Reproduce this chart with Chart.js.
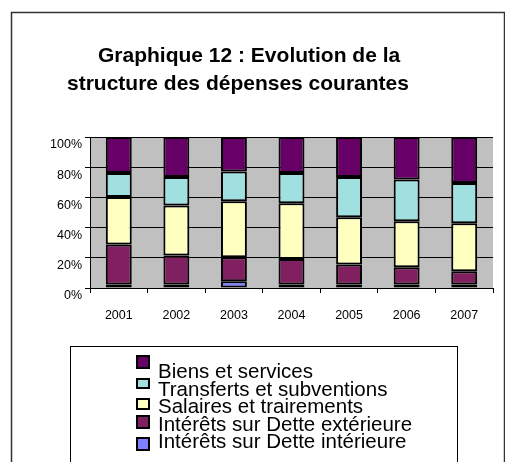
<!DOCTYPE html>
<html>
<head>
<meta charset="utf-8">
<script src="https://cdn.jsdelivr.net/npm/chart.js@4"></script>
<style>
  html, body { margin: 0; padding: 0; background: #fff; }
  #wrap { width: 505px; height: 462px; position: relative; }
</style>
</head>
<body>
<div id="wrap"><canvas id="myChart" width="505" height="462"></canvas></div>
<script>
const years = ["2001","2002","2003","2004","2005","2006","2007"];
const detteInterieure = [2.4, 2.4, 4.4, 2.4, 2.4, 2.4, 2.4];
const detteExterieure = [26.4, 19.1, 16.0, 16.8, 13.1, 11.3, 8.7];
const salaires = [31.4, 33.1, 37.1, 37.0, 31.4, 30.5, 31.8];
const transferts = [15.9, 18.9, 19.7, 19.9, 26.6, 27.7, 26.6];
const biens = [23.9, 26.5, 22.8, 23.9, 26.5, 28.1, 30.5];
const titleLines = ['Graphique 12 : Evolution de la', 'structure des dépenses courantes'];

const FONT = 'Arial, "Liberation Sans", sans-serif';
var ctx = document.getElementById("myChart").getContext('2d');

function ds(label, values, color) {
  return {
    label: label,
    data: values,
    backgroundColor: color,
    borderColor: '#000',
    borderWidth: 2,
    borderSkipped: false,
    categoryPercentage: 1,
    barPercentage: 0.45
  };
}

// bottom to top
const datasets = [
  ds('Intérêts sur Dette intérieure', detteInterieure, '#8080FF'),
  ds('Intérêts sur Dette extérieure', detteExterieure, '#802060'),
  ds('Salaires et trairements', salaires, '#FFFFC0'),
  ds('Transferts et subventions', transferts, '#A0E0E0'),
  ds('Biens et services', biens, '#660066')
];

// gray plot background, frame, title and the legend box
const decor = {
  id: 'decor',
  beforeDraw(chart) {
    const c = chart.ctx, a = chart.chartArea;
    c.save();
    c.fillStyle = '#C0C0C0';
    c.fillRect(a.left, a.top, a.right - a.left, a.bottom - a.top);
    c.restore();
  },
  afterDraw(chart) {
    const c = chart.ctx;
    c.save();
    c.strokeStyle = '#333';
    c.lineWidth = 1.5;
    c.strokeRect(11.5, 12.5, 493, 470);

    // title (Excel style, two lines)
    c.fillStyle = '#000';
    c.font = 'bold 21px ' + FONT;
    c.textBaseline = 'middle';
    c.fillText(titleLines[0], 98, 56);
    c.fillText(titleLines[1], 67, 84);

    // legend
    c.lineWidth = 1;
    c.strokeStyle = '#000';
    c.strokeRect(70.5, 346.5, 387, 130);
    const boxY = [356, 379, 399, 416, 438];
    const boxH = [12, 9, 10, 12, 12];
    const items = chart.data.datasets.slice().reverse();
    c.font = '20.5px ' + FONT;
    c.textBaseline = 'alphabetic';
    items.forEach(function (d, i) {
      c.fillStyle = d.backgroundColor;
      c.fillRect(137, boxY[i], 12, boxH[i]);
      c.strokeStyle = '#000';
      c.lineWidth = 2;
      c.strokeRect(137, boxY[i], 12, boxH[i]);
      c.fillStyle = '#000';
      c.fillText(d.label, 158, 378 + i * 17.6);
    });
    c.restore();
  }
};

const config = {
  type: 'bar',
  data: { labels: years, datasets: datasets },
  options: {
    responsive: false,
    animation: false,
    layout: { padding: { left: 0, right: 12, top: 137, bottom: 124 } },
    plugins: {
      legend: { display: false },
      tooltip: { enabled: false },
      title: { display: false }
    },
    scales: {
      x: {
        stacked: true,
        grid: { offset: true, drawOnChartArea: false, color: '#000', tickLength: 5 },
        border: { color: '#000', width: 1 },
        ticks: { color: '#000', font: { family: FONT, size: 12.5 }, padding: 15, maxRotation: 0 }
      },
      y: {
        stacked: true,
        min: 0,
        max: 100,
        afterFit: function (scale) { scale.width = 90; },
        grid: { color: '#000', tickLength: 5 },
        border: { color: '#000', width: 1 },
        ticks: {
          stepSize: 20,
          color: '#000',
          font: { family: FONT, size: 12.5 },
          labelOffset: 8,
          padding: 3,
          callback: function (v) { return v + '%'; }
        }
      }
    }
  },
  plugins: [decor]
};

var myChart = new Chart(ctx, config);
</script>
</body>
</html>
